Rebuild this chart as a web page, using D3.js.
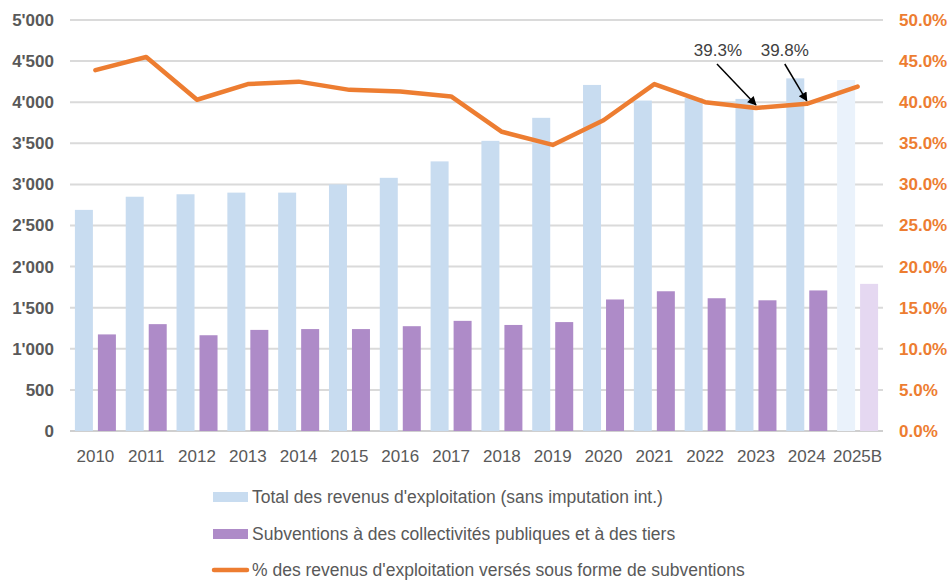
<!DOCTYPE html>
<html>
<head>
<meta charset="utf-8">
<script src="https://cdn.jsdelivr.net/npm/d3@7"></script>
<style>
  body { margin: 0; background: #fff; }
  svg text { font-family: "Liberation Sans", Arial, sans-serif; }
</style>
</head>
<body>
<div id="chart"></div>
<script>
// data
const years = ["2010","2011","2012","2013","2014","2015","2016","2017","2018","2019","2020","2021","2022","2023","2024","2025B"];
const revenus = [2690, 2850, 2880, 2900, 2900, 3000, 3080, 3280, 3530, 3810, 4210, 4020, 4050, 4040, 4290, 4270];
const subventions = [1175, 1300, 1165, 1230, 1240, 1240, 1275, 1340, 1290, 1325, 1600, 1700, 1615, 1590, 1710, 1790];
const pct = [43.9, 45.5, 40.3, 42.2, 42.5, 41.5, 41.3, 40.7, 36.4, 34.8, 37.8, 42.2, 40.0, 39.3, 39.8, 41.9];
const leftTicks = [0, 500, 1000, 1500, 2000, 2500, 3000, 3500, 4000, 4500, 5000];
const rightTicks = [0, 5, 10, 15, 20, 25, 30, 35, 40, 45, 50];
const legendLabels = [
  "Total des revenus d'exploitation (sans imputation int.)",
  "Subventions à des collectivités publiques et à des tiers",
  "% des revenus d'exploitation versés sous forme de subventions"
];
const annotated = [13, 14]; // 2023, 2024

const W = 950, H = 580;
const plotL = 70, plotR = 883, plotT = 20, plotB = 431;

const svg = d3.select("#chart").append("svg")
  .attr("width", W).attr("height", H);

const x = d3.scaleBand().domain(years).range([plotL, plotR]);
const yL = d3.scaleLinear().domain([0, 5000]).range([plotB, plotT]);
const yR = d3.scaleLinear().domain([0, 50]).range([plotB, plotT]);

const barW = 18, gap = 5;
const fmtL = d => d3.format(",")(d).replace(/,/g, "'");

// gridlines
svg.append("g").selectAll("line")
  .data(leftTicks)
  .join("line")
  .attr("x1", plotL).attr("x2", plotR)
  .attr("y1", d => yL(d)).attr("y2", d => yL(d))
  .attr("stroke", d => d === 0 ? "#cfcfcf" : "#dadada")
  .attr("stroke-width", 2);

// bars
const isBudget = i => i === years.length - 1;
const cx = d => x(d) + x.bandwidth() / 2;

svg.append("g").selectAll("rect")
  .data(years)
  .join("rect")
  .attr("x", d => cx(d) - gap / 2 - barW)
  .attr("width", barW)
  .attr("y", (d, i) => yL(revenus[i]))
  .attr("height", (d, i) => yL(0) - yL(revenus[i]))
  .attr("fill", (d, i) => isBudget(i) ? "#eaf2fb" : "#c8dcf0");

svg.append("g").selectAll("rect")
  .data(years)
  .join("rect")
  .attr("x", d => cx(d) + gap / 2)
  .attr("width", barW)
  .attr("y", (d, i) => yL(subventions[i]))
  .attr("height", (d, i) => yL(0) - yL(subventions[i]))
  .attr("fill", (d, i) => isBudget(i) ? "#e5d8f1" : "#ae8bc8");

// line
const line = d3.line()
  .x((d, i) => cx(years[i]))
  .y(d => yR(d));

svg.append("path")
  .datum(pct)
  .attr("d", line)
  .attr("fill", "none")
  .attr("stroke", "#ed7d31")
  .attr("stroke-width", 4.5)
  .attr("stroke-linejoin", "round")
  .attr("stroke-linecap", "round");

// left axis
svg.append("g").selectAll("text")
  .data(leftTicks)
  .join("text")
  .attr("x", 54).attr("y", d => yL(d))
  .attr("dy", "0.35em")
  .attr("text-anchor", "end")
  .attr("font-size", 17).attr("font-weight", "bold")
  .attr("fill", "#595959")
  .text(fmtL);

// right axis
svg.append("g").selectAll("text")
  .data(rightTicks)
  .join("text")
  .attr("x", 899).attr("y", d => yR(d))
  .attr("dy", "0.35em")
  .attr("font-size", 17).attr("font-weight", "bold")
  .attr("fill", "#ed7d31")
  .text(d => d.toFixed(1) + "%");

// x labels
svg.append("g").selectAll("text")
  .data(years)
  .join("text")
  .attr("x", d => cx(d)).attr("y", 456)
  .attr("dy", "0.35em")
  .attr("text-anchor", "middle")
  .attr("font-size", 17)
  .attr("fill", "#595959")
  .text(d => d);

// annotations
svg.append("defs").append("marker")
  .attr("id", "arr")
  .attr("viewBox", "0 0 10 10")
  .attr("refX", 9).attr("refY", 5)
  .attr("markerWidth", 7).attr("markerHeight", 6)
  .attr("orient", "auto")
  .append("path").attr("d", "M0,0L10,5L0,10z").attr("fill", "#000");

const labelOffsets = [{tx: -38, ax: -39}, {tx: -22, ax: -22}];
annotated.forEach((idx, k) => {
  const px = cx(years[idx]), py = yR(pct[idx]);
  const o = labelOffsets[k];
  svg.append("text")
    .attr("x", px + o.tx).attr("y", 50)
    .attr("dy", "0.35em")
    .attr("text-anchor", "middle")
    .attr("font-size", 17)
    .attr("fill", "#404040")
    .text(pct[idx].toFixed(1) + "%");
  svg.append("line")
    .attr("x1", px + o.ax).attr("y1", 64)
    .attr("x2", px).attr("y2", py - 3)
    .attr("stroke", "#000").attr("stroke-width", 1.5)
    .attr("marker-end", "url(#arr)");
});

// legend
const lg = svg.append("g");
const legendY = [497, 534, 570];
legendLabels.forEach((t, i) => {
  if (i < 2) {
    lg.append("rect")
      .attr("x", 213).attr("y", legendY[i] - 5)
      .attr("width", 35).attr("height", 10)
      .attr("fill", i === 0 ? "#c8dcf0" : "#ae8bc8");
  } else {
    lg.append("line")
      .attr("x1", 214).attr("x2", 247)
      .attr("y1", legendY[i]).attr("y2", legendY[i])
      .attr("stroke", "#ed7d31").attr("stroke-width", 4.5)
      .attr("stroke-linecap", "round");
  }
  lg.append("text")
    .attr("x", 252).attr("y", legendY[i])
    .attr("dy", "0.35em")
    .attr("font-size", 17.5)
    .attr("fill", "#595959")
    .text(t);
});
</script>
</body>
</html>
